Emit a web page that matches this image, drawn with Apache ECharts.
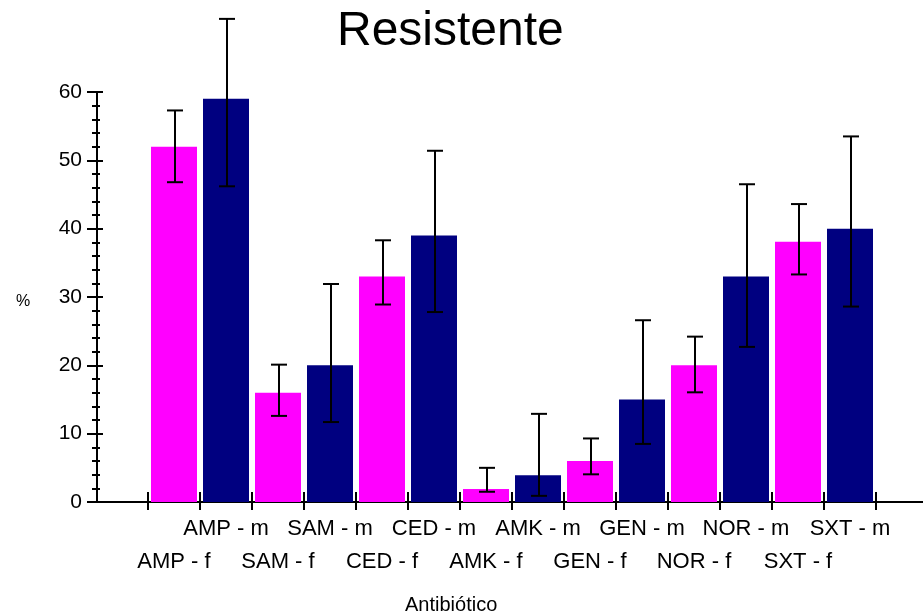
<!DOCTYPE html>
<html><head><meta charset="utf-8">
<script src="https://cdn.jsdelivr.net/npm/echarts@6/dist/echarts.min.js"></script>
<style>html,body{margin:0;padding:0;background:#fff}#c{width:923px;height:613px}</style>
</head><body><div id="c"></div>
<script>
const categories = ['AMP - f','AMP - m','SAM - f','SAM - m','CED - f','CED - m','AMK - f','AMK - m','GEN - f','GEN - m','NOR - f','NOR - m','SXT - f','SXT - m'];
const values  = [52, 59, 16, 20, 33, 39, 1.9, 3.9, 6, 15, 20, 33, 38.1, 40];
const errLow  = [46.8, 46.2, 12.6, 11.7, 28.9, 27.8, 1.5, 0.9, 4.05, 8.5, 16.05, 22.7, 33.3, 28.6];
const errHigh = [57.3, 70.7, 20.1, 31.9, 38.3, 51.4, 5.0, 12.9, 9.3, 26.6, 24.2, 46.5, 43.6, 53.5];
const yTicks = [0, 10, 20, 30, 40, 50, 60];

const FONT = '"Liberation Sans", Arial, sans-serif';
const chart = echarts.init(document.getElementById('c'), null, {renderer:'canvas'});
const errData = categories.map((c,i)=>[i, errLow[i], errHigh[i]]);
const yBase = {
  type:'value', gridIndex:0, min:yTicks[0], max:yTicks[yTicks.length-1], interval:10, offset:51,
  splitLine:{show:false}, axisLine:{show:true, lineStyle:{color:'#000', width:2}}
};
chart.setOption({
  animation:false,
  title:[
    {text:'Resistente', left:332, top:3, textStyle:{fontFamily:FONT, fontSize:48, fontWeight:'normal', color:'#000'}},
    {text:'Antibiótico', left:400, top:590, textStyle:{fontFamily:FONT, fontSize:20, fontWeight:'normal', color:'#000'}},
    {text:'%', left:11, top:289, textStyle:{fontFamily:FONT, fontSize:16, fontWeight:'normal', color:'#000'}}
  ],
  grid:[
    {left:148, right:47, top:92, bottom:111},
    {left:97, right:0, top:92, bottom:111}
  ],
  xAxis:[
    {type:'category', gridIndex:0, data:categories, boundaryGap:true,
     axisLine:{show:false},
     axisTick:{show:true, inside:false, length:8, lineStyle:{color:'#000', width:2}},
     axisLabel:{interval:0, margin:16, fontFamily:FONT, fontSize:22, color:'#000',
       formatter:(v,i)=> (i%2===1 ? v : '')}},
    {type:'category', gridIndex:0, data:categories, boundaryGap:true, position:'bottom',
     axisLine:{show:false},
     axisTick:{show:true, inside:true, length:10, lineStyle:{color:'#000', width:2}},
     axisLabel:{interval:0, margin:49, fontFamily:FONT, fontSize:22, color:'#000',
       formatter:(v,i)=> (i%2===0 ? v : '')}},
    {type:'value', gridIndex:1, min:0, max:1,
     axisLine:{show:true, onZero:false, lineStyle:{color:'#000', width:2}},
     axisTick:{show:false}, axisLabel:{show:false}, splitLine:{show:false}}
  ],
  yAxis:[
    Object.assign({}, yBase, {
      axisTick:{show:true, inside:false, length:10, lineStyle:{color:'#000', width:2}},
      minorTick:{show:true, splitNumber:5, length:5, lineStyle:{color:'#000', width:2}},
      axisLabel:{margin:15, fontFamily:FONT, fontSize:21, color:'#000'}
    }),
    Object.assign({}, yBase, {
      position:'left',
      axisTick:{show:true, inside:true, length:6, lineStyle:{color:'#000', width:2}},
      minorTick:{show:true, splitNumber:5, length:3, lineStyle:{color:'#000', width:2}},
      axisLabel:{show:false}
    }),
    {type:'value', gridIndex:1, min:0, max:1, show:false}
  ],
  series:[
    {type:'bar', xAxisIndex:0, yAxisIndex:0, data:values, barWidth:46,
     itemStyle:{color:(p)=> p.dataIndex%2===0 ? '#FF00FF' : '#000080'}},
    {type:'custom', xAxisIndex:0, yAxisIndex:0, data:errData, clip:false, z:5,
     encode:{x:0, y:[1,2]},
     renderItem:(params, api)=>{
       const lo = api.coord([api.value(0), api.value(1)]);
       const hi = api.coord([api.value(0), api.value(2)]);
       const x = lo[0] + 1, hw = 8;
       const st = {stroke:'#000', lineWidth:2};
       return {type:'group', children:[
         {type:'line', shape:{x1:x, y1:lo[1], x2:x, y2:hi[1]}, style:st},
         {type:'line', shape:{x1:x-hw, y1:lo[1], x2:x+hw, y2:lo[1]}, style:st},
         {type:'line', shape:{x1:x-hw, y1:hi[1], x2:x+hw, y2:hi[1]}, style:st}
       ]};
     }}
  ]
});
</script></body></html>
